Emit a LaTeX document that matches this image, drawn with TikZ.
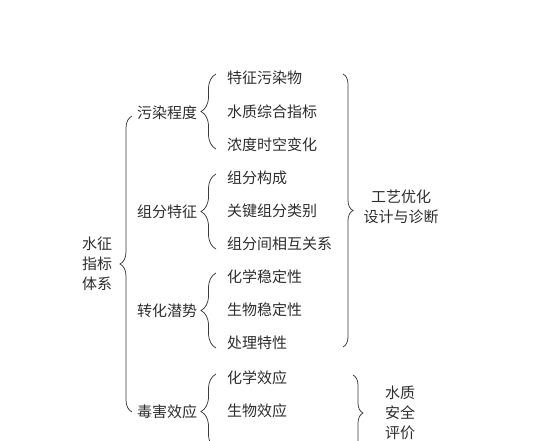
\documentclass[tikz,border=0pt]{standalone}
\usepackage{fontspec}
\setmainfont{Noto Sans CJK SC}
\usetikzlibrary{decorations.pathreplacing}
\definecolor{ink}{HTML}{2E2E2E}
\definecolor{bline}{HTML}{3A3A3A}
\tikzset{
  txt/.style={font=\fontsize{15}{20}\selectfont, text=ink, inner sep=0pt},
  item/.style={txt, anchor=west},
  cat/.style={txt, anchor=center},
  multi/.style={txt, align=center, anchor=center},
  br/.style={draw=bline, line width=0.75pt, decorate,
    decoration={brace, amplitude=#1, aspect=0.5}},
  br/.default=8pt
}
\begin{document}
\begin{tikzpicture}[x=1pt,y=-1pt]
\useasboundingbox (0,0) rectangle (551,440);
\clip (0,0) rectangle (551,440);
\fill[white] (0,0) rectangle (551,440);

% root
\node[multi] (root) at (97,264) {水征\\指标\\体系};

% categories
\node[cat] (c1) at (167,113) {污染程度};
\node[cat] (c2) at (167,212) {组分特征};
\node[cat] (c3) at (167,311) {转化潜势};
\node[cat] (c4) at (167,412) {毒害效应};

% items
\node[item] (i1)  at (227,78)  {特征污染物};
\node[item] (i2)  at (227,112) {水质综合指标};
\node[item] (i3)  at (227,145) {浓度时空变化};
\node[item] (i4)  at (227,178) {组分构成};
\node[item] (i5)  at (227,211) {关键组分类别};
\node[item] (i6)  at (227,244) {组分间相互关系};
\node[item] (i7)  at (227,277) {化学稳定性};
\node[item] (i8)  at (227,310) {生物稳定性};
\node[item] (i9)  at (227,343) {处理特性};
\node[item] (i10) at (227,378) {化学效应};
\node[item] (i11) at (227,411) {生物效应};

% outcomes
\node[multi] (o1) at (401,207) {工艺优化\\设计与诊断};
\node[multi] (o2) at (400,413) {水质\\安全\\评价};

% brace end points
\coordinate (b0t) at (132,116);
\coordinate (b0b) at (132,412);
\coordinate (b1t) at (216,74);
\coordinate (b1b) at (216,149);
\coordinate (b2t) at (216,174);
\coordinate (b2b) at (216,249);
\coordinate (b3t) at (216,273);
\coordinate (b3b) at (216,348);
\coordinate (b4t) at (216,374);
\coordinate (b4b) at (216,449);
\coordinate (r1t) at (343,74);
\coordinate (r1b) at (343,347);
\coordinate (r2t) at (353,375);
\coordinate (r2b) at (353,451);

% braces
\draw[br=12pt] (b0b) -- (b0t);
\draw[br=15pt] (b1b) -- (b1t);
\draw[br=15pt] (b2b) -- (b2t);
\draw[br=15pt] (b3b) -- (b3t);
\draw[br=15pt] (b4b) -- (b4t);
\draw[br=10pt] (r1t) -- (r1b);
\draw[br=10pt] (r2t) -- (r2b);
\end{tikzpicture}
\end{document}
